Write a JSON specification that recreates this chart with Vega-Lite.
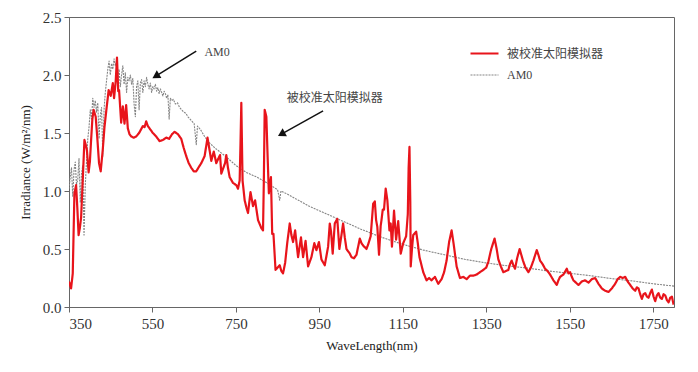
{
  "$schema": "https://vega.github.io/schema/vega-lite/v6.json",
  "width": 605,
  "height": 290,
  "autosize": {"type": "none"},
  "padding": {"left": 69, "top": 17, "right": 24, "bottom": 65},
  "background": "white",
  "config": {
    "view": {"stroke": "#666", "strokeWidth": 1},
    "axis": {
      "grid": false,
      "domainColor": "#666",
      "tickColor": "#666",
      "tickSize": 5,
      "labelFont": "Liberation Serif",
      "labelFontSize": 15,
      "labelColor": "#333",
      "titleFont": "Liberation Serif",
      "titleFontSize": 13,
      "titleFontWeight": "normal",
      "titleColor": "#222"
    }
  },
  "datasets": {
    "spec": [
      {"wl":350,"irr":1.02,"series":"AM0"},{"wl":353,"irr":1.12,"series":"AM0"},{"wl":356,"irr":1.2,"series":"AM0"},{"wl":359,"irr":0.95,"series":"AM0"},{"wl":362,"irr":1.18,"series":"AM0"},{"wl":365,"irr":1.25,"series":"AM0"},{"wl":368,"irr":1.05,"series":"AM0"},{"wl":371,"irr":1.1,"series":"AM0"},{"wl":374,"irr":1.28,"series":"AM0"},{"wl":377,"irr":0.9,"series":"AM0"},{"wl":380,"irr":1.15,"series":"AM0"},{"wl":383,"irr":1.22,"series":"AM0"},{"wl":386,"irr":0.62,"series":"AM0"},{"wl":389,"irr":1.05,"series":"AM0"},{"wl":392,"irr":1.25,"series":"AM0"},{"wl":395,"irr":1.45,"series":"AM0"},{"wl":398,"irr":1.55,"series":"AM0"},{"wl":401,"irr":1.7,"series":"AM0"},{"wl":404,"irr":1.62,"series":"AM0"},{"wl":407,"irr":1.8,"series":"AM0"},{"wl":410,"irr":1.72,"series":"AM0"},{"wl":413,"irr":1.78,"series":"AM0"},{"wl":416,"irr":1.68,"series":"AM0"},{"wl":419,"irr":1.76,"series":"AM0"},{"wl":422,"irr":1.45,"series":"AM0"},{"wl":425,"irr":1.65,"series":"AM0"},{"wl":428,"irr":1.72,"series":"AM0"},{"wl":431,"irr":1.3,"series":"AM0"},{"wl":434,"irr":1.7,"series":"AM0"},{"wl":437,"irr":1.85,"series":"AM0"},{"wl":440,"irr":1.95,"series":"AM0"},{"wl":443,"irr":2.05,"series":"AM0"},{"wl":446,"irr":2.12,"series":"AM0"},{"wl":449,"irr":2.0,"series":"AM0"},{"wl":452,"irr":2.1,"series":"AM0"},{"wl":455,"irr":2.05,"series":"AM0"},{"wl":458,"irr":2.14,"series":"AM0"},{"wl":461,"irr":2.08,"series":"AM0"},{"wl":464,"irr":2.12,"series":"AM0"},{"wl":467,"irr":1.95,"series":"AM0"},{"wl":470,"irr":2.05,"series":"AM0"},{"wl":473,"irr":1.9,"series":"AM0"},{"wl":476,"irr":2.0,"series":"AM0"},{"wl":479,"irr":2.08,"series":"AM0"},{"wl":482,"irr":1.92,"series":"AM0"},{"wl":485,"irr":2.02,"series":"AM0"},{"wl":488,"irr":1.85,"series":"AM0"},{"wl":491,"irr":1.98,"series":"AM0"},{"wl":494,"irr":1.95,"series":"AM0"},{"wl":497,"irr":2.0,"series":"AM0"},{"wl":500,"irr":1.92,"series":"AM0"},{"wl":503,"irr":1.97,"series":"AM0"},{"wl":506,"irr":1.75,"series":"AM0"},{"wl":509,"irr":1.64,"series":"AM0"},{"wl":512,"irr":1.9,"series":"AM0"},{"wl":515,"irr":1.95,"series":"AM0"},{"wl":518,"irr":1.7,"series":"AM0"},{"wl":521,"irr":1.93,"series":"AM0"},{"wl":524,"irr":1.96,"series":"AM0"},{"wl":527,"irr":1.85,"series":"AM0"},{"wl":530,"irr":1.95,"series":"AM0"},{"wl":533,"irr":1.9,"series":"AM0"},{"wl":536,"irr":1.98,"series":"AM0"},{"wl":539,"irr":1.92,"series":"AM0"},{"wl":542,"irr":1.88,"series":"AM0"},{"wl":545,"irr":1.93,"series":"AM0"},{"wl":548,"irr":1.85,"series":"AM0"},{"wl":551,"irr":1.9,"series":"AM0"},{"wl":554,"irr":1.88,"series":"AM0"},{"wl":557,"irr":1.92,"series":"AM0"},{"wl":560,"irr":1.86,"series":"AM0"},{"wl":563,"irr":1.89,"series":"AM0"},{"wl":566,"irr":1.84,"series":"AM0"},{"wl":569,"irr":1.88,"series":"AM0"},{"wl":572,"irr":1.85,"series":"AM0"},{"wl":575,"irr":1.82,"series":"AM0"},{"wl":578,"irr":1.86,"series":"AM0"},{"wl":581,"irr":1.84,"series":"AM0"},{"wl":584,"irr":1.8,"series":"AM0"},{"wl":587,"irr":1.83,"series":"AM0"},{"wl":590,"irr":1.62,"series":"AM0"},{"wl":593,"irr":1.8,"series":"AM0"},{"wl":596,"irr":1.78,"series":"AM0"},{"wl":600,"irr":1.79,"series":"AM0"},{"wl":605,"irr":1.75,"series":"AM0"},{"wl":610,"irr":1.76,"series":"AM0"},{"wl":615,"irr":1.72,"series":"AM0"},{"wl":620,"irr":1.7,"series":"AM0"},{"wl":625,"irr":1.68,"series":"AM0"},{"wl":630,"irr":1.67,"series":"AM0"},{"wl":635,"irr":1.64,"series":"AM0"},{"wl":640,"irr":1.62,"series":"AM0"},{"wl":645,"irr":1.6,"series":"AM0"},{"wl":650,"irr":1.58,"series":"AM0"},{"wl":655,"irr":1.4,"series":"AM0"},{"wl":658,"irr":1.56,"series":"AM0"},{"wl":665,"irr":1.53,"series":"AM0"},{"wl":675,"irr":1.47,"series":"AM0"},{"wl":685,"irr":1.42,"series":"AM0"},{"wl":700,"irr":1.37,"series":"AM0"},{"wl":725,"irr":1.3,"series":"AM0"},{"wl":750,"irr":1.22,"series":"AM0"},{"wl":775,"irr":1.16,"series":"AM0"},{"wl":800,"irr":1.12,"series":"AM0"},{"wl":825,"irr":1.07,"series":"AM0"},{"wl":850,"irr":1.01,"series":"AM0"},{"wl":855,"irr":0.92,"series":"AM0"},{"wl":858,"irr":1.0,"series":"AM0"},{"wl":875,"irr":0.97,"series":"AM0"},{"wl":900,"irr":0.92,"series":"AM0"},{"wl":925,"irr":0.87,"series":"AM0"},{"wl":950,"irr":0.83,"series":"AM0"},{"wl":975,"irr":0.79,"series":"AM0"},{"wl":1000,"irr":0.75,"series":"AM0"},{"wl":1050,"irr":0.67,"series":"AM0"},{"wl":1100,"irr":0.6,"series":"AM0"},{"wl":1150,"irr":0.54,"series":"AM0"},{"wl":1200,"irr":0.49,"series":"AM0"},{"wl":1250,"irr":0.45,"series":"AM0"},{"wl":1300,"irr":0.41,"series":"AM0"},{"wl":1350,"irr":0.38,"series":"AM0"},{"wl":1400,"irr":0.355,"series":"AM0"},{"wl":1450,"irr":0.335,"series":"AM0"},{"wl":1500,"irr":0.31,"series":"AM0"},{"wl":1550,"irr":0.29,"series":"AM0"},{"wl":1600,"irr":0.27,"series":"AM0"},{"wl":1650,"irr":0.245,"series":"AM0"},{"wl":1700,"irr":0.225,"series":"AM0"},{"wl":1750,"irr":0.2,"series":"AM0"},{"wl":1800,"irr":0.18,"series":"AM0"},
      {"wl":350,"irr":0.22,"series":"被校准太阳模拟器"},{"wl":355,"irr":0.16,"series":"被校准太阳模拟器"},{"wl":359,"irr":0.29,"series":"被校准太阳模拟器"},{"wl":363,"irr":0.98,"series":"被校准太阳模拟器"},{"wl":367,"irr":1.05,"series":"被校准太阳模拟器"},{"wl":370,"irr":0.85,"series":"被校准太阳模拟器"},{"wl":373,"irr":0.62,"series":"被校准太阳模拟器"},{"wl":376,"irr":0.68,"series":"被校准太阳模拟器"},{"wl":379,"irr":0.77,"series":"被校准太阳模拟器"},{"wl":383,"irr":1.1,"series":"被校准太阳模拟器"},{"wl":387,"irr":1.44,"series":"被校准太阳模拟器"},{"wl":390,"irr":1.4,"series":"被校准太阳模拟器"},{"wl":393,"irr":1.35,"series":"被校准太阳模拟器"},{"wl":397,"irr":1.16,"series":"被校准太阳模拟器"},{"wl":400,"irr":1.25,"series":"被校准太阳模拟器"},{"wl":403,"irr":1.44,"series":"被校准太阳模拟器"},{"wl":406,"irr":1.62,"series":"被校准太阳模拟器"},{"wl":409,"irr":1.7,"series":"被校准太阳模拟器"},{"wl":414,"irr":1.64,"series":"被校准太阳模拟器"},{"wl":418,"irr":1.45,"series":"被校准太阳模拟器"},{"wl":422,"irr":1.24,"series":"被校准太阳模拟器"},{"wl":426,"irr":1.17,"series":"被校准太阳模拟器"},{"wl":431,"irr":1.36,"series":"被校准太阳模拟器"},{"wl":435,"irr":1.55,"series":"被校准太阳模拟器"},{"wl":439,"irr":1.68,"series":"被校准太阳模拟器"},{"wl":445,"irr":1.87,"series":"被校准太阳模拟器"},{"wl":450,"irr":1.82,"series":"被校准太阳模拟器"},{"wl":455,"irr":1.93,"series":"被校准太阳模拟器"},{"wl":458,"irr":1.8,"series":"被校准太阳模拟器"},{"wl":462,"irr":1.95,"series":"被校准太阳模拟器"},{"wl":465,"irr":2.15,"series":"被校准太阳模拟器"},{"wl":468,"irr":1.86,"series":"被校准太阳模拟器"},{"wl":470,"irr":1.87,"series":"被校准太阳模拟器"},{"wl":475,"irr":1.59,"series":"被校准太阳模拟器"},{"wl":479,"irr":1.73,"series":"被校准太阳模拟器"},{"wl":483,"irr":1.58,"series":"被校准太阳模拟器"},{"wl":487,"irr":1.74,"series":"被校准太阳模拟器"},{"wl":491,"irr":1.54,"series":"被校准太阳模拟器"},{"wl":495,"irr":1.49,"series":"被校准太阳模拟器"},{"wl":499,"irr":1.47,"series":"被校准太阳模拟器"},{"wl":505,"irr":1.46,"series":"被校准太阳模拟器"},{"wl":511,"irr":1.47,"series":"被校准太阳模拟器"},{"wl":518,"irr":1.5,"series":"被校准太阳模拟器"},{"wl":527,"irr":1.56,"series":"被校准太阳模拟器"},{"wl":531,"irr":1.55,"series":"被校准太阳模拟器"},{"wl":535,"irr":1.6,"series":"被校准太阳模拟器"},{"wl":539,"irr":1.56,"series":"被校准太阳模拟器"},{"wl":543,"irr":1.54,"series":"被校准太阳模拟器"},{"wl":551,"irr":1.5,"series":"被校准太阳模拟器"},{"wl":559,"irr":1.47,"series":"被校准太阳模拟器"},{"wl":567,"irr":1.43,"series":"被校准太阳模拟器"},{"wl":575,"irr":1.44,"series":"被校准太阳模拟器"},{"wl":583,"irr":1.46,"series":"被校准太阳模拟器"},{"wl":590,"irr":1.45,"series":"被校准太阳模拟器"},{"wl":597,"irr":1.49,"series":"被校准太阳模拟器"},{"wl":603,"irr":1.51,"series":"被校准太阳模拟器"},{"wl":611,"irr":1.49,"series":"被校准太阳模拟器"},{"wl":619,"irr":1.45,"series":"被校准太阳模拟器"},{"wl":625,"irr":1.37,"series":"被校准太阳模拟器"},{"wl":631,"irr":1.3,"series":"被校准太阳模拟器"},{"wl":637,"irr":1.24,"series":"被校准太阳模拟器"},{"wl":643,"irr":1.2,"series":"被校准太阳模拟器"},{"wl":649,"irr":1.17,"series":"被校准太阳模拟器"},{"wl":655,"irr":1.17,"series":"被校准太阳模拟器"},{"wl":660,"irr":1.2,"series":"被校准太阳模拟器"},{"wl":667,"irr":1.24,"series":"被校准太阳模拟器"},{"wl":675,"irr":1.3,"series":"被校准太阳模拟器"},{"wl":682,"irr":1.46,"series":"被校准太阳模拟器"},{"wl":687,"irr":1.35,"series":"被校准太阳模拟器"},{"wl":691,"irr":1.26,"series":"被校准太阳模拟器"},{"wl":697,"irr":1.34,"series":"被校准太阳模拟器"},{"wl":703,"irr":1.24,"series":"被校准太阳模拟器"},{"wl":708,"irr":1.28,"series":"被校准太阳模拟器"},{"wl":712,"irr":1.31,"series":"被校准太阳模拟器"},{"wl":715,"irr":1.15,"series":"被校准太阳模拟器"},{"wl":720,"irr":1.2,"series":"被校准太阳模拟器"},{"wl":724,"irr":1.24,"series":"被校准太阳模拟器"},{"wl":727,"irr":1.31,"series":"被校准太阳模拟器"},{"wl":731,"irr":1.2,"series":"被校准太阳模拟器"},{"wl":735,"irr":1.12,"series":"被校准太阳模拟器"},{"wl":743,"irr":1.07,"series":"被校准太阳模拟器"},{"wl":751,"irr":1.05,"series":"被校准太阳模拟器"},{"wl":755,"irr":1.02,"series":"被校准太阳模拟器"},{"wl":759,"irr":1.09,"series":"被校准太阳模拟器"},{"wl":761,"irr":1.4,"series":"被校准太阳模拟器"},{"wl":763,"irr":1.76,"series":"被校准太阳模拟器"},{"wl":765,"irr":1.3,"series":"被校准太阳模拟器"},{"wl":766,"irr":1.09,"series":"被校准太阳模拟器"},{"wl":771,"irr":0.92,"series":"被校准太阳模拟器"},{"wl":775,"irr":0.86,"series":"被校准太阳模拟器"},{"wl":779,"irr":0.81,"series":"被校准太阳模拟器"},{"wl":785,"irr":0.99,"series":"被校准太阳模拟器"},{"wl":791,"irr":0.87,"series":"被校准太阳模拟器"},{"wl":796,"irr":0.92,"series":"被校准太阳模拟器"},{"wl":803,"irr":0.75,"series":"被校准太阳模拟器"},{"wl":811,"irr":0.68,"series":"被校准太阳模拟器"},{"wl":815,"irr":0.66,"series":"被校准太阳模拟器"},{"wl":817,"irr":1.1,"series":"被校准太阳模拟器"},{"wl":819,"irr":1.7,"series":"被校准太阳模拟器"},{"wl":823,"irr":1.64,"series":"被校准太阳模拟器"},{"wl":826,"irr":1.3,"series":"被校准太阳模拟器"},{"wl":829,"irr":0.98,"series":"被校准太阳模拟器"},{"wl":834,"irr":1.12,"series":"被校准太阳模拟器"},{"wl":837,"irr":0.63,"series":"被校准太阳模拟器"},{"wl":840,"irr":0.63,"series":"被校准太阳模拟器"},{"wl":845,"irr":0.32,"series":"被校准太阳模拟器"},{"wl":850,"irr":0.34,"series":"被校准太阳模拟器"},{"wl":855,"irr":0.36,"series":"被校准太阳模拟器"},{"wl":859,"irr":0.31,"series":"被校准太阳模拟器"},{"wl":863,"irr":0.29,"series":"被校准太阳模拟器"},{"wl":868,"irr":0.38,"series":"被校准太阳模拟器"},{"wl":873,"irr":0.55,"series":"被校准太阳模拟器"},{"wl":879,"irr":0.72,"series":"被校准太阳模拟器"},{"wl":883,"irr":0.62,"series":"被校准太阳模拟器"},{"wl":887,"irr":0.56,"series":"被校准太阳模拟器"},{"wl":892,"irr":0.66,"series":"被校准太阳模拟器"},{"wl":899,"irr":0.43,"series":"被校准太阳模拟器"},{"wl":906,"irr":0.6,"series":"被校准太阳模拟器"},{"wl":911,"irr":0.43,"series":"被校准太阳模拟器"},{"wl":917,"irr":0.57,"series":"被校准太阳模拟器"},{"wl":923,"irr":0.35,"series":"被校准太阳模拟器"},{"wl":931,"irr":0.43,"series":"被校准太阳模拟器"},{"wl":938,"irr":0.55,"series":"被校准太阳模拟器"},{"wl":943,"irr":0.49,"series":"被校准太阳模拟器"},{"wl":949,"irr":0.56,"series":"被校准太阳模拟器"},{"wl":955,"irr":0.41,"series":"被校准太阳模拟器"},{"wl":963,"irr":0.36,"series":"被校准太阳模拟器"},{"wl":971,"irr":0.52,"series":"被校准太阳模拟器"},{"wl":975,"irr":0.72,"series":"被校准太阳模拟器"},{"wl":978,"irr":0.65,"series":"被校准太阳模拟器"},{"wl":982,"irr":0.46,"series":"被校准太阳模拟器"},{"wl":987,"irr":0.72,"series":"被校准太阳模拟器"},{"wl":993,"irr":0.76,"series":"被校准太阳模拟器"},{"wl":998,"irr":0.5,"series":"被校准太阳模拟器"},{"wl":1003,"irr":0.62,"series":"被校准太阳模拟器"},{"wl":1007,"irr":0.72,"series":"被校准太阳模拟器"},{"wl":1011,"irr":0.6,"series":"被校准太阳模拟器"},{"wl":1015,"irr":0.5,"series":"被校准太阳模拟器"},{"wl":1023,"irr":0.46,"series":"被校准太阳模拟器"},{"wl":1027,"irr":0.43,"series":"被校准太阳模拟器"},{"wl":1033,"irr":0.42,"series":"被校准太阳模拟器"},{"wl":1039,"irr":0.45,"series":"被校准太阳模拟器"},{"wl":1047,"irr":0.59,"series":"被校准太阳模拟器"},{"wl":1051,"irr":0.55,"series":"被校准太阳模拟器"},{"wl":1055,"irr":0.53,"series":"被校准太阳模拟器"},{"wl":1063,"irr":0.5,"series":"被校准太阳模拟器"},{"wl":1068,"irr":0.55,"series":"被校准太阳模拟器"},{"wl":1073,"irr":0.61,"series":"被校准太阳模拟器"},{"wl":1079,"irr":0.89,"series":"被校准太阳模拟器"},{"wl":1083,"irr":0.91,"series":"被校准太阳模拟器"},{"wl":1086,"irr":0.75,"series":"被校准太阳模拟器"},{"wl":1089,"irr":0.69,"series":"被校准太阳模拟器"},{"wl":1093,"irr":0.45,"series":"被校准太阳模拟器"},{"wl":1097,"irr":0.7,"series":"被校准太阳模拟器"},{"wl":1099,"irr":0.75,"series":"被校准太阳模拟器"},{"wl":1102,"irr":0.84,"series":"被校准太阳模拟器"},{"wl":1105,"irr":0.84,"series":"被校准太阳模拟器"},{"wl":1109,"irr":1.02,"series":"被校准太阳模拟器"},{"wl":1113,"irr":0.92,"series":"被校准太阳模拟器"},{"wl":1118,"irr":0.66,"series":"被校准太阳模拟器"},{"wl":1121,"irr":0.72,"series":"被校准太阳模拟器"},{"wl":1124,"irr":0.52,"series":"被校准太阳模拟器"},{"wl":1129,"irr":0.83,"series":"被校准太阳模拟器"},{"wl":1134,"irr":0.58,"series":"被校准太阳模拟器"},{"wl":1139,"irr":0.74,"series":"被校准太阳模拟器"},{"wl":1142,"irr":0.6,"series":"被校准太阳模拟器"},{"wl":1145,"irr":0.46,"series":"被校准太阳模拟器"},{"wl":1151,"irr":0.55,"series":"被校准太阳模拟器"},{"wl":1158,"irr":0.61,"series":"被校准太阳模拟器"},{"wl":1162,"irr":0.8,"series":"被校准太阳模拟器"},{"wl":1164,"irr":1.2,"series":"被校准太阳模拟器"},{"wl":1166,"irr":1.38,"series":"被校准太阳模拟器"},{"wl":1168,"irr":0.9,"series":"被校准太阳模拟器"},{"wl":1169,"irr":0.35,"series":"被校准太阳模拟器"},{"wl":1172,"irr":0.5,"series":"被校准太阳模拟器"},{"wl":1175,"irr":0.62,"series":"被校准太阳模拟器"},{"wl":1182,"irr":0.65,"series":"被校准太阳模拟器"},{"wl":1186,"irr":0.55,"series":"被校准太阳模拟器"},{"wl":1190,"irr":0.43,"series":"被校准太阳模拟器"},{"wl":1199,"irr":0.3,"series":"被校准太阳模拟器"},{"wl":1207,"irr":0.23,"series":"被校准太阳模拟器"},{"wl":1213,"irr":0.25,"series":"被校准太阳模拟器"},{"wl":1219,"irr":0.23,"series":"被校准太阳模拟器"},{"wl":1227,"irr":0.26,"series":"被校准太阳模拟器"},{"wl":1235,"irr":0.2,"series":"被校准太阳模拟器"},{"wl":1243,"irr":0.24,"series":"被校准太阳模拟器"},{"wl":1249,"irr":0.3,"series":"被校准太阳模拟器"},{"wl":1255,"irr":0.4,"series":"被校准太阳模拟器"},{"wl":1261,"irr":0.56,"series":"被校准太阳模拟器"},{"wl":1267,"irr":0.66,"series":"被校准太阳模拟器"},{"wl":1272,"irr":0.54,"series":"被校准太阳模拟器"},{"wl":1279,"irr":0.35,"series":"被校准太阳模拟器"},{"wl":1287,"irr":0.25,"series":"被校准太阳模拟器"},{"wl":1295,"irr":0.26,"series":"被校准太阳模拟器"},{"wl":1303,"irr":0.24,"series":"被校准太阳模拟器"},{"wl":1311,"irr":0.27,"series":"被校准太阳模拟器"},{"wl":1319,"irr":0.27,"series":"被校准太阳模拟器"},{"wl":1327,"irr":0.28,"series":"被校准太阳模拟器"},{"wl":1335,"irr":0.3,"series":"被校准太阳模拟器"},{"wl":1343,"irr":0.32,"series":"被校准太阳模拟器"},{"wl":1350,"irr":0.34,"series":"被校准太阳模拟器"},{"wl":1355,"irr":0.39,"series":"被校准太阳模拟器"},{"wl":1362,"irr":0.5,"series":"被校准太阳模拟器"},{"wl":1370,"irr":0.59,"series":"被校准太阳模拟器"},{"wl":1375,"irr":0.5,"series":"被校准太阳模拟器"},{"wl":1379,"irr":0.41,"series":"被校准太阳模拟器"},{"wl":1385,"irr":0.35,"series":"被校准太阳模拟器"},{"wl":1391,"irr":0.3,"series":"被校准太阳模拟器"},{"wl":1397,"irr":0.31,"series":"被校准太阳模拟器"},{"wl":1403,"irr":0.32,"series":"被校准太阳模拟器"},{"wl":1407,"irr":0.37,"series":"被校准太阳模拟器"},{"wl":1411,"irr":0.4,"series":"被校准太阳模拟器"},{"wl":1415,"irr":0.36,"series":"被校准太阳模拟器"},{"wl":1419,"irr":0.33,"series":"被校准太阳模拟器"},{"wl":1424,"irr":0.42,"series":"被校准太阳模拟器"},{"wl":1430,"irr":0.5,"series":"被校准太阳模拟器"},{"wl":1434,"irr":0.45,"series":"被校准太阳模拟器"},{"wl":1438,"irr":0.4,"series":"被校准太阳模拟器"},{"wl":1444,"irr":0.34,"series":"被校准太阳模拟器"},{"wl":1451,"irr":0.3,"series":"被校准太阳模拟器"},{"wl":1457,"irr":0.34,"series":"被校准太阳模拟器"},{"wl":1463,"irr":0.4,"series":"被校准太阳模拟器"},{"wl":1471,"irr":0.49,"series":"被校准太阳模拟器"},{"wl":1475,"irr":0.45,"series":"被校准太阳模拟器"},{"wl":1479,"irr":0.4,"series":"被校准太阳模拟器"},{"wl":1485,"irr":0.37,"series":"被校准太阳模拟器"},{"wl":1491,"irr":0.33,"series":"被校准太阳模拟器"},{"wl":1497,"irr":0.31,"series":"被校准太阳模拟器"},{"wl":1503,"irr":0.28,"series":"被校准太阳模拟器"},{"wl":1511,"irr":0.23,"series":"被校准太阳模拟器"},{"wl":1519,"irr":0.19,"series":"被校准太阳模拟器"},{"wl":1523,"irr":0.23,"series":"被校准太阳模拟器"},{"wl":1527,"irr":0.26,"series":"被校准太阳模拟器"},{"wl":1535,"irr":0.28,"series":"被校准太阳模拟器"},{"wl":1543,"irr":0.33,"series":"被校准太阳模拟器"},{"wl":1547,"irr":0.29,"series":"被校准太阳模拟器"},{"wl":1551,"irr":0.3,"series":"被校准太阳模拟器"},{"wl":1555,"irr":0.26,"series":"被校准太阳模拟器"},{"wl":1559,"irr":0.23,"series":"被校准太阳模拟器"},{"wl":1565,"irr":0.21,"series":"被校准太阳模拟器"},{"wl":1571,"irr":0.19,"series":"被校准太阳模拟器"},{"wl":1579,"irr":0.22,"series":"被校准太阳模拟器"},{"wl":1587,"irr":0.23,"series":"被校准太阳模拟器"},{"wl":1595,"irr":0.21,"series":"被校准太阳模拟器"},{"wl":1603,"irr":0.24,"series":"被校准太阳模拟器"},{"wl":1611,"irr":0.25,"series":"被校准太阳模拟器"},{"wl":1619,"irr":0.2,"series":"被校准太阳模拟器"},{"wl":1627,"irr":0.16,"series":"被校准太阳模拟器"},{"wl":1635,"irr":0.14,"series":"被校准太阳模拟器"},{"wl":1643,"irr":0.13,"series":"被校准太阳模拟器"},{"wl":1651,"irr":0.16,"series":"被校准太阳模拟器"},{"wl":1659,"irr":0.2,"series":"被校准太阳模拟器"},{"wl":1665,"irr":0.24,"series":"被校准太阳模拟器"},{"wl":1671,"irr":0.26,"series":"被校准太阳模拟器"},{"wl":1677,"irr":0.25,"series":"被校准太阳模拟器"},{"wl":1683,"irr":0.26,"series":"被校准太阳模拟器"},{"wl":1689,"irr":0.22,"series":"被校准太阳模拟器"},{"wl":1695,"irr":0.19,"series":"被校准太阳模拟器"},{"wl":1701,"irr":0.16,"series":"被校准太阳模拟器"},{"wl":1707,"irr":0.14,"series":"被校准太阳模拟器"},{"wl":1711,"irr":0.17,"series":"被校准太阳模拟器"},{"wl":1715,"irr":0.16,"series":"被校准太阳模拟器"},{"wl":1719,"irr":0.11,"series":"被校准太阳模拟器"},{"wl":1723,"irr":0.07,"series":"被校准太阳模拟器"},{"wl":1727,"irr":0.11,"series":"被校准太阳模拟器"},{"wl":1731,"irr":0.12,"series":"被校准太阳模拟器"},{"wl":1735,"irr":0.09,"series":"被校准太阳模拟器"},{"wl":1739,"irr":0.08,"series":"被校准太阳模拟器"},{"wl":1743,"irr":0.12,"series":"被校准太阳模拟器"},{"wl":1747,"irr":0.15,"series":"被校准太阳模拟器"},{"wl":1751,"irr":0.09,"series":"被校准太阳模拟器"},{"wl":1755,"irr":0.05,"series":"被校准太阳模拟器"},{"wl":1759,"irr":0.1,"series":"被校准太阳模拟器"},{"wl":1763,"irr":0.12,"series":"被校准太阳模拟器"},{"wl":1767,"irr":0.08,"series":"被校准太阳模拟器"},{"wl":1771,"irr":0.07,"series":"被校准太阳模拟器"},{"wl":1775,"irr":0.11,"series":"被校准太阳模拟器"},{"wl":1779,"irr":0.1,"series":"被校准太阳模拟器"},{"wl":1783,"irr":0.06,"series":"被校准太阳模拟器"},{"wl":1787,"irr":0.04,"series":"被校准太阳模拟器"},{"wl":1791,"irr":0.08,"series":"被校准太阳模拟器"},{"wl":1795,"irr":0.09,"series":"被校准太阳模拟器"},{"wl":1799,"irr":0.02,"series":"被校准太阳模拟器"}
    ],
    "arrows": [
      {"x": 655, "y": 2.206, "x2": 558, "y2": 1.99, "angle": 239},
      {"x": 959, "y": 1.69, "x2": 859, "y2": 1.49, "angle": 241}
    ],
    "notes": [
      {"x": 705, "y": 2.2, "label": "AM0"},
      {"x": 987, "y": 1.8, "label": "被校准太阳模拟器"}
    ]
  },
  "layer": [
    {
      "data": {"name": "spec"},
      "mark": {"type": "line", "clip": true, "strokeJoin": "round"},
      "encoding": {
        "x": {
          "field": "wl", "type": "quantitative",
          "scale": {"domain": [350, 1800], "nice": false, "zero": false},
          "axis": {"values": [350, 550, 750, 950, 1150, 1350, 1550, 1750], "format": "d", "title": "WaveLength(nm)", "titlePadding": 8, "labelPadding": 4}
        },
        "y": {
          "field": "irr", "type": "quantitative",
          "scale": {"domain": [0, 2.5], "nice": false},
          "axis": {"values": [0, 0.5, 1, 1.5, 2, 2.5], "format": ".1f", "title": "Irradiance (W/m²/nm)", "titlePadding": 10, "labelPadding": 3}
        },
        "color": {
          "field": "series", "type": "nominal",
          "scale": {"domain": ["被校准太阳模拟器", "AM0"], "range": ["#e8141b", "#858585"]},
          "legend": {
            "title": null, "orient": "none", "legendX": 400, "legendY": 21,
            "symbolType": "stroke", "symbolSize": 784, "rowPadding": -8,
            "labelFont": "Liberation Serif, Noto Sans CJK SC", "labelFontSize": 12, "labelColor": "#444",
            "labelOffset": 7, "padding": 0
          }
        },
        "strokeDash": {
          "field": "series", "type": "nominal",
          "scale": {"domain": ["被校准太阳模拟器", "AM0"], "range": [[1, 0], [2, 1]]},
          "legend": {
            "title": null, "orient": "none", "legendX": 400, "legendY": 21,
            "symbolType": "stroke", "symbolSize": 784, "rowPadding": -8,
            "labelFont": "Liberation Serif, Noto Sans CJK SC", "labelFontSize": 12, "labelColor": "#444",
            "labelOffset": 7, "padding": 0
          }
        },
        "strokeWidth": {
          "field": "series", "type": "nominal",
          "scale": {"domain": ["被校准太阳模拟器", "AM0"], "range": [2.2, 1.1]},
          "legend": null
        },
        "order": {"field": "wl", "type": "quantitative"}
      }
    },
    {
      "data": {"name": "arrows"},
      "mark": {"type": "rule", "color": "#111", "strokeWidth": 1.5},
      "encoding": {
        "x": {"field": "x", "type": "quantitative"},
        "y": {"field": "y", "type": "quantitative"},
        "x2": {"field": "x2"},
        "y2": {"field": "y2"}
      }
    },
    {
      "data": {"name": "arrows"},
      "mark": {"type": "point", "shape": "triangle-up", "filled": true, "color": "#111", "size": 80, "opacity": 1},
      "encoding": {
        "x": {"field": "x2", "type": "quantitative"},
        "y": {"field": "y2", "type": "quantitative"},
        "angle": {"field": "angle", "type": "quantitative", "scale": null}
      }
    },
    {
      "data": {"name": "notes"},
      "mark": {"type": "text", "font": "Liberation Serif, Noto Sans CJK SC", "fontSize": 12, "color": "#444", "align": "center", "baseline": "middle"},
      "encoding": {
        "x": {"field": "x", "type": "quantitative"},
        "y": {"field": "y", "type": "quantitative"},
        "text": {"field": "label"}
      }
    }
  ]
}
